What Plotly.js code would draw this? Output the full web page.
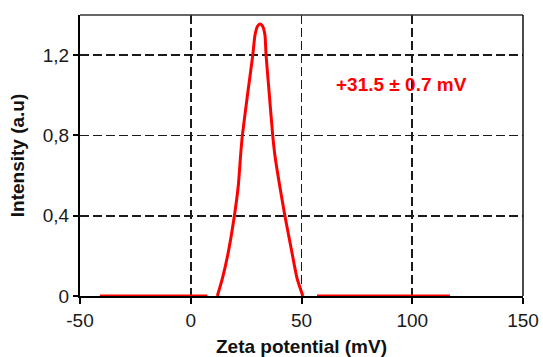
<!DOCTYPE html>
<html>
<head>
<meta charset="utf-8">
<script src="https://cdn.plot.ly/plotly-3.0.1.min.js"></script>
<style>html,body{margin:0;padding:0;background:#fff;}#chart{width:543px;height:357px;}</style>
</head>
<body>
<div id="chart"></div>
<script>
// Zeta potential distribution
const zeta = [-41, 7.5, null, 12, 14.3, 16.7, 19.7, 21.5, 22.5, 23.3, 25.6, 28.0, 29.0, 30.2, 31.3, 32.4, 33.5, 34.0, 35.5, 37.0, 38.0, 40.1, 42.5, 45.9, 48.0, 50.6, null, 57, 117];
const intensity = [0, 0, null, 0, 0.088, 0.204, 0.40, 0.553, 0.70, 0.80, 1.00, 1.20, 1.30, 1.345, 1.355, 1.345, 1.30, 1.20, 1.00, 0.80, 0.70, 0.553, 0.40, 0.204, 0.088, 0, null, 0, 0];
const xTicks = [-50, 0, 50, 100, 150];
const xTickText = ['-50', '0', '50', '100', '150'];
const yTicks = [0, 0.4, 0.8, 1.2];
const yTickText = ['0', '0,4', '0,8', '1,2'];
const label = '+31.5 ± 0.7 mV';
const labelPos = [95, 1.056];

const font = 'Liberation Sans, Arial, sans-serif';
const trace = {
  x: zeta, y: intensity, type: 'scatter', mode: 'lines',
  line: {color: '#ff0000', width: 3, shape: 'spline', smoothing: 0.5}, connectgaps: false, hoverinfo: 'skip'
};
const layout = {
  width: 543, height: 357,
  margin: {l: 80, r: 20, t: 15, b: 61},
  paper_bgcolor: '#fff', plot_bgcolor: '#fff',
  showlegend: false,
  font: {family: font, size: 19, color: '#000'},
  xaxis: {
    range: [-50, 150], tickvals: xTicks, ticktext: xTickText,
    showline: true, linecolor: '#000', linewidth: 2, layer: 'below traces',
    ticks: 'outside', ticklen: 6, tickwidth: 2, tickcolor: '#000',
    showgrid: true, gridcolor: '#1a1a1a', gridwidth: 1.8, griddash: '9px,4px',
    zeroline: false,
    tickfont: {family: font, size: 19, color: '#1a1a1a'},
    title: {text: '<b>Zeta potential (mV)</b>', font: {family: font, size: 19, color: '#111'}, standoff: 11}
  },
  yaxis: {
    range: [0, 1.4], tickvals: yTicks, ticktext: yTickText,
    showline: true, linecolor: '#000', linewidth: 2, layer: 'below traces',
    ticks: 'outside', ticklen: 5, tickwidth: 2, tickcolor: '#000',
    showgrid: true, gridcolor: '#1a1a1a', gridwidth: 1.8, griddash: '9px,4px',
    zeroline: false,
    tickfont: {family: font, size: 19, color: '#1a1a1a'},
    title: {text: '<b>Intensity (a.u)</b>', font: {family: font, size: 19, color: '#111'}, standoff: 13}
  },
  shapes: [
    {type: 'line', xref: 'paper', yref: 'paper', x0: 0, x1: 1, y0: 1, y1: 1, line: {color: '#333', width: 1.5}},
    {type: 'line', xref: 'paper', yref: 'paper', x0: 1, x1: 1, y0: 0, y1: 1, line: {color: '#111', width: 1.5}}
  ],
  annotations: [{
    x: labelPos[0], y: labelPos[1], xref: 'x', yref: 'y', showarrow: false,
    text: '<b>' + label + '</b>', font: {family: font, size: 19, color: '#ff0000'}
  }]
};
Plotly.newPlot('chart', [trace], layout, {staticPlot: true, displayModeBar: false});
</script>
</body>
</html>
